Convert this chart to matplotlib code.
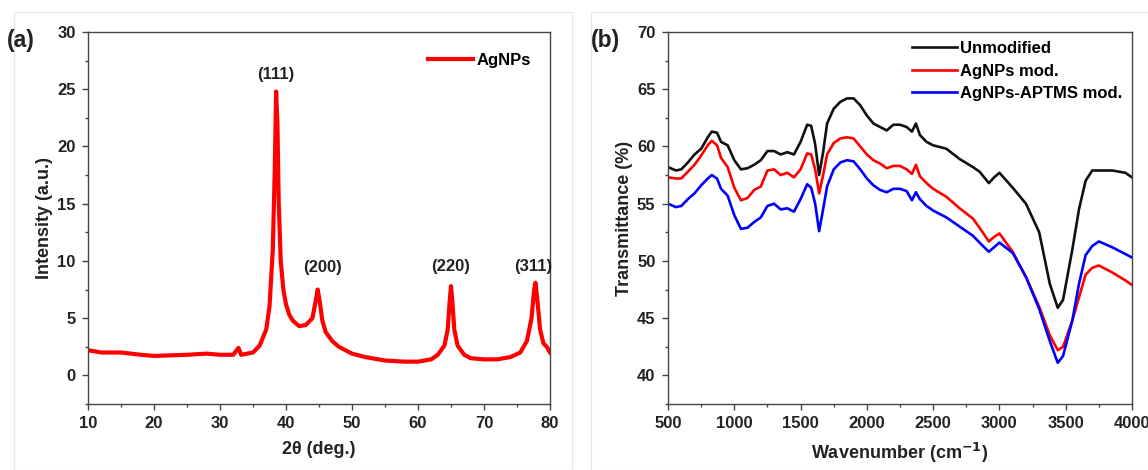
import numpy as np
import matplotlib.pyplot as plt
from matplotlib.ticker import MultipleLocator
from matplotlib.patches import Rectangle

plt.rcParams['font.family'] = ['Liberation Sans', 'DejaVu Sans']
plt.rcParams['font.weight'] = 'bold'

# (a) XRD pattern of AgNPs
xrd_2theta = [10, 12, 15, 18, 20, 25, 28, 30, 32, 32.8, 33.2, 35, 36, 37, 37.5, 38, 38.3, 38.5,
              38.7, 38.9, 39.2, 39.6, 40, 40.5, 41, 42, 43, 44, 44.5, 44.8, 45.1, 45.5, 46, 47,
              48, 50, 52, 55, 58, 60, 62, 63, 64, 64.5, 64.8, 65, 65.2, 65.5, 66, 67, 68, 70,
              72, 74, 75.5, 76.5, 77.2, 77.6, 77.8, 78.1, 78.5, 79, 79.5, 80]
xrd_intensity = [2.2, 2.0, 2.0, 1.8, 1.7, 1.8, 1.9, 1.8, 1.8, 2.4, 1.8, 2.0, 2.6, 4.0, 6.0, 11.0,
                 18.0, 24.8, 22.0, 15.0, 10.0, 7.5, 6.2, 5.3, 4.8, 4.3, 4.4, 5.0, 6.5, 7.5, 6.5,
                 4.8, 3.8, 3.0, 2.5, 1.9, 1.6, 1.3, 1.2, 1.2, 1.4, 1.8, 2.6, 4.0, 6.5, 7.8, 6.5,
                 4.0, 2.6, 1.8, 1.5, 1.4, 1.4, 1.6, 2.0, 3.0, 5.0, 7.5, 8.1, 6.5, 4.0, 2.8, 2.5, 2.0]
peak_labels = ['(111)', '(200)', '(220)', '(311)']
peak_label_x = [38.5, 45.6, 65.0, 77.4]
peak_label_y = [26.3, 9.4, 9.5, 9.5]

# (b) FTIR spectra
ftir_wn = [500, 560, 600, 650, 700, 750, 800, 830, 870, 900, 950, 1000, 1050, 1100, 1150, 1200,
           1250, 1300, 1350, 1400, 1450, 1500, 1550, 1580, 1610, 1640, 1670, 1700, 1750, 1800,
           1850, 1900, 1950, 2000, 2050, 2100, 2150, 2200, 2250, 2300, 2340, 2370, 2400, 2450,
           2500, 2600, 2700, 2800, 2850, 2920, 2960, 3000, 3100, 3200, 3300, 3380, 3440, 3480,
           3550, 3600, 3650, 3700, 3750, 3850, 3950, 4000]
unmodified = [58.2, 57.9, 58.0, 58.6, 59.3, 59.8, 60.8, 61.3, 61.2, 60.4, 60.1, 58.8, 58.0, 58.1,
              58.4, 58.8, 59.6, 59.6, 59.3, 59.5, 59.3, 60.4, 61.9, 61.8, 60.2, 57.5, 59.5, 62.0,
              63.3, 63.9, 64.2, 64.2, 63.6, 62.7, 62.0, 61.7, 61.4, 61.9, 61.9, 61.7, 61.3, 62.0,
              61.0, 60.4, 60.1, 59.8, 58.9, 58.2, 57.8, 56.8, 57.3, 57.7, 56.4, 55.0, 52.5, 48.0,
              45.9, 46.6, 51.0, 54.5, 57.0, 57.9, 57.9, 57.9, 57.7, 57.3]
agnps_mod = [57.3, 57.2, 57.2, 57.8, 58.4, 59.2, 60.1, 60.5, 60.1, 59.0, 58.2, 56.4, 55.3, 55.5,
             56.2, 56.5, 57.9, 58.0, 57.5, 57.7, 57.3, 58.0, 59.4, 59.3, 58.0, 55.9, 57.5, 59.3,
             60.3, 60.7, 60.8, 60.7, 60.0, 59.3, 58.8, 58.5, 58.1, 58.3, 58.3, 58.0, 57.6, 58.4,
             57.4, 56.8, 56.3, 55.6, 54.6, 53.7, 52.9, 51.7, 52.1, 52.4, 50.8, 48.6, 46.0, 43.5,
             42.2, 42.5, 44.8, 46.8, 48.8, 49.4, 49.6, 49.0, 48.3, 47.9]
aptms_mod = [55.0, 54.7, 54.8, 55.4, 55.9, 56.6, 57.2, 57.5, 57.2, 56.3, 55.7, 54.0, 52.8, 52.9,
             53.4, 53.8, 54.8, 55.0, 54.5, 54.6, 54.3, 55.4, 56.7, 56.4, 55.0, 52.6, 54.5, 56.5,
             58.0, 58.6, 58.8, 58.7, 58.0, 57.2, 56.6, 56.2, 56.0, 56.3, 56.3, 56.1, 55.3, 56.0,
             55.4, 54.8, 54.4, 53.8, 53.0, 52.2, 51.6, 50.8, 51.2, 51.6, 50.7, 48.6, 45.8, 43.0,
             41.1, 41.7, 44.8, 48.0, 50.5, 51.3, 51.7, 51.2, 50.6, 50.3]

fig = plt.figure(figsize=(11.48, 4.70), dpi=100)

# light panel frames like in the source figure
fig.add_artist(Rectangle((14 / 1148, 0), 558 / 1148, 1 - 12 / 470, transform=fig.transFigure,
                         fill=False, edgecolor='#e6e6e6', lw=0.8))
fig.add_artist(Rectangle((591 / 1148, 0), 557 / 1148, 1 - 12 / 470, transform=fig.transFigure,
                         fill=False, edgecolor='#e6e6e6', lw=0.8))

ax1 = fig.add_axes([88 / 1148, 1 - 404 / 470, 462 / 1148, 372 / 470])
ax2 = fig.add_axes([668 / 1148, 1 - 404 / 470, 464 / 1148, 372 / 470])


def style_axes(ax):
    for s in ax.spines.values():
        s.set_linewidth(1.0)
        s.set_color('#444444')
    ax.tick_params(which='both', direction='out', top=False, right=False,
                   labelsize=12, colors='#444444', labelcolor='#222222', width=1.0, pad=5)
    ax.tick_params(which='major', length=4)
    ax.tick_params(which='minor', length=2.5)
    for lab in ax.get_xticklabels() + ax.get_yticklabels():
        lab.set_fontweight('bold')


# panel (a)
ax1.plot(xrd_2theta, xrd_intensity, color='#ff0000', lw=3.0, label='AgNPs')
for lab, px, py in zip(peak_labels, peak_label_x, peak_label_y):
    ax1.text(px, py, lab, ha='center', va='center', fontsize=12, fontweight='bold', color='#222222')
ax1.set_xlim(10, 80)
ax1.set_ylim(-2.5, 30)
ax1.xaxis.set_major_locator(MultipleLocator(10))
ax1.xaxis.set_minor_locator(MultipleLocator(5))
ax1.yaxis.set_major_locator(MultipleLocator(5))
ax1.yaxis.set_minor_locator(MultipleLocator(2.5))
ax1.set_xlabel('2θ (deg.)', fontsize=13, fontweight='bold', labelpad=7, color='#222222')
ax1.set_ylabel('Intensity (a.u.)', fontsize=13, fontweight='bold', labelpad=3, color='#222222')
ax1.legend(loc='upper right', frameon=False, handlelength=2.7, handletextpad=0.25,
           borderaxespad=0.3, bbox_to_anchor=(0.985, 0.975),
           prop={'weight': 'bold', 'size': 12})
style_axes(ax1)
fig.text(7 / 1148, 1 - 41 / 470, '(a)', fontsize=16.5, fontweight='bold', va='center', color='#222222')

# panel (b)
ax2.plot(ftir_wn, unmodified, color='#111111', lw=1.9, label='Unmodified')
ax2.plot(ftir_wn, agnps_mod, color='#ff0000', lw=1.9, label='AgNPs mod.')
ax2.plot(ftir_wn, aptms_mod, color='#0000ff', lw=1.9, label='AgNPs-APTMS mod.')
ax2.set_xlim(500, 4000)
ax2.set_ylim(37.5, 70)
ax2.xaxis.set_major_locator(MultipleLocator(500))
ax2.xaxis.set_minor_locator(MultipleLocator(250))
ax2.yaxis.set_major_locator(MultipleLocator(5))
ax2.yaxis.set_minor_locator(MultipleLocator(2.5))
ax2.set_xlabel('Wavenumber (cm$^{\\mathbf{-1}}$)', fontsize=13, fontweight='bold', labelpad=7,
               color='#222222')
ax2.set_ylabel('Transmittance (%)', fontsize=13, fontweight='bold', labelpad=3, color='#222222')
ax2.legend(loc='upper right', frameon=False, handlelength=2.7, handletextpad=0.2,
           labelspacing=0.45, borderaxespad=0.3, bbox_to_anchor=(1.005, 1.007),
           prop={'weight': 'bold', 'size': 12})
style_axes(ax2)
fig.text(591 / 1148, 1 - 41 / 470, '(b)', fontsize=16.5, fontweight='bold', va='center', color='#222222')

fig.savefig('out.png', dpi=100)
